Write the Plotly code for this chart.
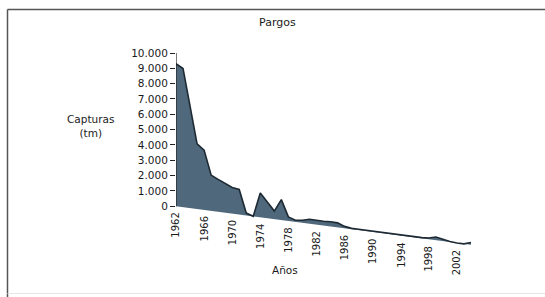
import plotly.graph_objects as go

years = list(range(1962, 2005))
capturas = [9300, 9050, 6650, 4250, 3900, 2330, 2110, 1910, 1700, 1630,
            150, 0, 1580, 1050, 520, 1330, 260, 100, 165, 290,
            270, 280, 300, 290, 120, 50, 55, 50, 45, 40,
            40, 35, 35, 40, 40, 50, 85, 210, 120, 30,
            0, 0, 150]
ytick_vals = [0, 1000, 2000, 3000, 4000, 5000, 6000, 7000, 8000, 9000, 10000]
ytick_text = ["0", "1.000", "2.000", "3.000", "4.000", "5.000", "6.000",
              "7.000", "8.000", "9.000", "10.000"]
xtick_years = [1962, 1966, 1970, 1974, 1978, 1982, 1986, 1990, 1994, 1998, 2002]

# perspective skew of the original drawing: baseline drops steadily with the years
skew = 60.0
base = [-skew * (y - 1962) for y in years]
top = [v + b for v, b in zip(capturas, base)]

W, H = 545, 297
L, R, T, B = 176, 67, 53, 51
PW, PH = W - L - R, H - T - B
def px(x):
    return (x - L) / PW
def py(y):
    return (H - B - y) / PH

FONT = "DejaVu Sans"
fig = go.Figure()
fig.add_trace(go.Scatter(x=years, y=base, mode="lines", line=dict(width=0),
                         hoverinfo="skip", showlegend=False))
fig.add_trace(go.Scatter(x=years, y=top, mode="lines", fill="tonexty",
                         fillcolor="#4f687b", line=dict(color="#1e2a33", width=1.6),
                         showlegend=False))

annotations = []
for yr in xtick_years:
    annotations.append(dict(x=yr, y=-skew * (yr - 1962), xref="x", yref="y",
                            text=str(yr), textangle=-90, showarrow=False,
                            xanchor="center", yanchor="top", yshift=-5,
                            font=dict(family=FONT, size=10, color="#1a1a1a")))
annotations += [
    dict(x=px(277), y=py(23), xref="paper", yref="paper", text="Pargos",
         xanchor="center", yanchor="middle",
         showarrow=False, font=dict(family=FONT, size=11, color="#1a1a1a")),
    dict(x=px(90), y=py(126), xref="paper", yref="paper", text="Capturas<br>(tm)",
         xanchor="center", yanchor="middle",
         showarrow=False, font=dict(family=FONT, size=10.5, color="#1a1a1a")),
    dict(x=px(285), y=py(270), xref="paper", yref="paper", text="Años",
         xanchor="center", yanchor="middle",
         showarrow=False, font=dict(family=FONT, size=10.5, color="#1a1a1a")),
]

shapes = [
    dict(type="line", xref="x", yref="y", x0=1962, x1=1962, y0=0, y1=10000,
         line=dict(color="#222", width=1.2)),
    dict(type="line", xref="paper", yref="paper", x0=px(7.5), x1=px(560),
         y0=py(9.5), y1=py(9.5), line=dict(color="#555", width=1.5)),
    dict(type="line", xref="paper", yref="paper", x0=px(7.5), x1=px(7.5),
         y0=py(9.5), y1=py(310), line=dict(color="#555", width=1.5)),
    dict(type="line", xref="paper", yref="paper", x0=px(7.5), x1=px(560),
         y0=py(293.5), y1=py(293.5), line=dict(color="#e6e6e6", width=1)),
]

fig.update_layout(
    width=W, height=H,
    margin=dict(l=L, r=R, t=T, b=B, autoexpand=False),
    paper_bgcolor="white", plot_bgcolor="white",
    xaxis=dict(range=[1962, 2005], visible=False),
    yaxis=dict(range=[-2600, 10000], tickvals=ytick_vals, ticktext=ytick_text,
               ticks="outside", ticklen=5, tickcolor="#222", tickwidth=1,
               showline=False, showgrid=False, zeroline=False,
               tickfont=dict(family=FONT, size=10.5, color="#1a1a1a")),
    annotations=annotations, shapes=shapes,
)
fig.write_html("out.html", config={"displayModeBar": False},
               post_script="document.body.style.margin='0';document.body.style.overflow='hidden';")
